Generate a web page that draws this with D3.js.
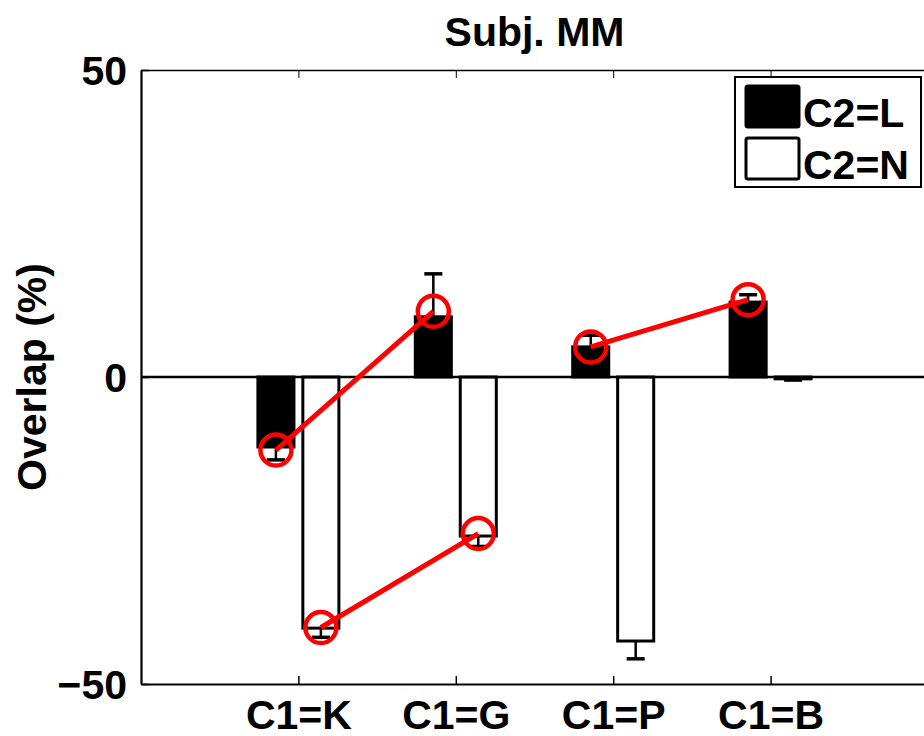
<!DOCTYPE html>
<html>
<head>
<meta charset="utf-8">
<script src="https://cdn.jsdelivr.net/npm/d3@7"></script>
<style>
  html, body { margin: 0; padding: 0; background: #fff; }
  svg { display: block; font-family: "Liberation Sans", Arial, Helvetica, sans-serif; font-weight: bold; }
</style>
</head>
<body>
<svg id="chart" width="924" height="736"></svg>
<script>
// ---- data ----
const title = "Subj. MM";
const yLabel = "Overlap (%)";
const categories = ["C1=K", "C1=G", "C1=P", "C1=B"];
const seriesNames = ["C2=L", "C2=N"];
const valuesL = [-11.4, 9.8, 4.9, 12.2];
const errorsL = [2.1, 7.0, 1.9, 1.2];
const valuesN = [-40.9, -25.9, -43.0, -0.3];
const errorsN = [1.5, 1.7, 2.9, 0.2];
const yTicks = [-50, 0, 50];
// red overlay (predictions), pairs of connected points: [category index, series index, value]
const redSegments = [
  [[0, 0, -11.9], [1, 0, 10.7]],
  [[0, 1, -40.8], [1, 1, -25.5]],
  [[2, 0, 4.9], [3, 0, 12.6]]
];

(function () {
// ---- layout ----
const svg = d3.select("#chart");
const mLeft = 141, mRight = 928, mTop = 70, mBottom = 684;
const x = d3.scaleLinear().domain([0, categories.length + 1]).range([mLeft, mRight]);
const y = d3.scaleLinear().domain([-50, 50]).range([mBottom, mTop]);
const unit = x(1) - x(0);
const offset = 0.1428; // MATLAB grouped offset
const barW = 0.229;    // bar width in x units
const seriesOffsets = [-offset, offset];
const fills = ["#000", "#fff"];
const allValues = [valuesL, valuesN];
const allErrors = [errorsL, errorsN];

svg.append("clipPath").attr("id", "clip").append("rect")
  .attr("x", mLeft).attr("y", mTop).attr("width", mRight - mLeft).attr("height", mBottom - mTop);

const g = svg.append("g").attr("clip-path", "url(#clip)");

// bars
allValues.forEach((vals, si) => {
  g.selectAll(null).data(vals).enter().append("rect")
    .attr("x", (d, i) => x(i + 1 + seriesOffsets[si] - barW / 2))
    .attr("width", barW * unit)
    .attr("y", d => Math.min(y(d), y(0)))
    .attr("height", d => Math.abs(y(d) - y(0)))
    .attr("fill", fills[si])
    .attr("stroke", "#000")
    .attr("stroke-width", 3);
});

// error bars (one-sided, away from zero)
allValues.forEach((vals, si) => {
  vals.forEach((v, i) => {
    const e = allErrors[si][i];
    const cx = x(i + 1 + seriesOffsets[si]);
    const end = v >= 0 ? v + e : v - e;
    g.append("line").attr("x1", cx).attr("x2", cx).attr("y1", y(v)).attr("y2", y(end))
      .attr("stroke", "#000").attr("stroke-width", 2.5);
    g.append("line").attr("x1", cx - 9).attr("x2", cx + 9).attr("y1", y(end)).attr("y2", y(end))
      .attr("stroke", "#000").attr("stroke-width", 3.5);
  });
});

// zero baseline
g.append("line").attr("x1", mLeft).attr("x2", mRight).attr("y1", y(0)).attr("y2", y(0))
  .attr("stroke", "#000").attr("stroke-width", 2.5);

// red overlay
const px = p => x(p[0] + 1 + seriesOffsets[p[1]]);
const py = p => y(p[2]);
redSegments.forEach(seg => {
  g.append("path")
    .attr("d", d3.line().x(px).y(py)(seg))
    .attr("fill", "none").attr("stroke", "#ff0000").attr("stroke-width", 5);
  g.selectAll(null).data(seg).enter().append("circle")
    .attr("cx", px).attr("cy", py).attr("r", 15.5)
    .attr("fill", "none").attr("stroke", "#ff0000").attr("stroke-width", 4.5);
});

// axes frame
const fontSize = 41;
const yAxis = d3.axisLeft(y).tickValues(yTicks).tickSizeInner(-8).tickSizeOuter(0).tickPadding(14);
const yG = svg.append("g").attr("transform", `translate(${mLeft},0)`).call(yAxis);
yG.select(".domain").attr("stroke-width", 2.2);
yG.selectAll(".tick line").attr("stroke-width", 1.5);
yG.selectAll("text").attr("font-size", fontSize).attr("font-weight", "bold").attr("fill", "#000")
  .attr("font-family", "Liberation Sans, Arial, sans-serif").attr("dy", "0.36em");

const xAxis = d3.axisBottom(x).tickValues(categories.map((c, i) => i + 1))
  .tickFormat((d, i) => categories[i]).tickSizeInner(-8).tickSizeOuter(0).tickPadding(20);
const xG = svg.append("g").attr("transform", `translate(0,${mBottom})`).call(xAxis);
xG.select(".domain").attr("stroke-width", 2.2);
xG.selectAll(".tick line").attr("stroke-width", 1.5);
xG.selectAll("text").attr("font-size", fontSize).attr("font-weight", "bold").attr("fill", "#000")
  .attr("font-family", "Liberation Sans, Arial, sans-serif").attr("dy", "0.62em");

// top mirrored axis
const xTop = d3.axisTop(x).tickValues(categories.map((c, i) => i + 1)).tickFormat("")
  .tickSizeInner(-8).tickSizeOuter(0);
const xtG = svg.append("g").attr("transform", `translate(0,${mTop})`).call(xTop);
xtG.select(".domain").attr("stroke-width", 1.5);
const yRight = d3.axisRight(y).tickValues(yTicks).tickFormat("").tickSizeInner(-8).tickSizeOuter(0);
svg.append("g").attr("transform", `translate(${mRight},0)`).call(yRight).select(".domain").attr("stroke-width", 2);

// title
svg.append("text").attr("x", (mLeft + mRight) / 2).attr("y", 46)
  .attr("text-anchor", "middle").attr("font-size", fontSize).attr("fill", "#000").text(title);

// y label
svg.append("text").attr("transform", `translate(46,${y(0)}) rotate(-90)`)
  .attr("text-anchor", "middle").attr("font-size", fontSize).attr("fill", "#000").text(yLabel);

// legend
const lg = svg.append("g");
lg.append("rect").attr("x", 735).attr("y", 77).attr("width", 186).attr("height", 110)
  .attr("fill", "#fff").attr("stroke", "#000").attr("stroke-width", 2);
seriesNames.forEach((name, i) => {
  const yy = 86 + i * 52;
  lg.append("rect").attr("x", 746).attr("y", yy).attr("width", 53).attr("height", 41)
    .attr("rx", 2).attr("fill", fills[i]).attr("stroke", "#000").attr("stroke-width", 3);
  lg.append("text").attr("x", 803).attr("y", yy + 41).attr("font-size", fontSize)
    .attr("fill", "#000").text(name);
});
})();
</script>
</body>
</html>
